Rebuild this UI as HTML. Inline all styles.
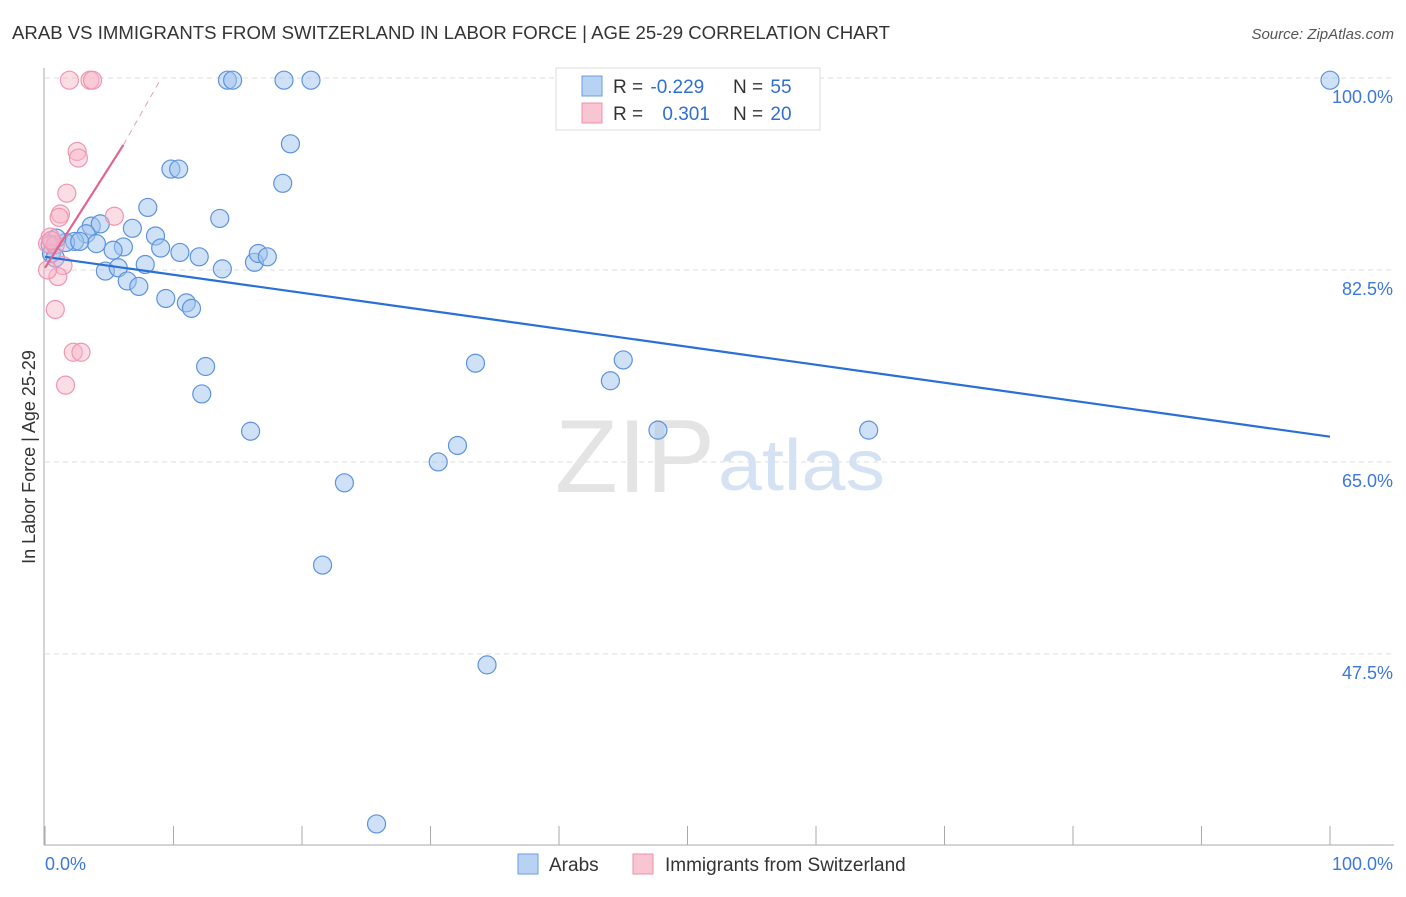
<!DOCTYPE html>
<html><head><meta charset="utf-8"><style>
body{margin:0;background:#fff;font-family:"Liberation Sans",sans-serif;}
svg text{font-family:"Liberation Sans",sans-serif;}
</style></head><body>
<svg id="c" width="1406" height="892">
<text x="12" y="39" font-size="18" fill="#333" textLength="878" lengthAdjust="spacingAndGlyphs">ARAB VS IMMIGRANTS FROM SWITZERLAND IN LABOR FORCE | AGE 25-29 CORRELATION CHART</text>
<text x="1394" y="39" font-size="15" fill="#555" font-style="italic" text-anchor="end">Source: ZipAtlas.com</text>
<text x="35" y="457" font-size="18" fill="#333" text-anchor="middle" transform="rotate(-90 35 457)">In Labor Force | Age 25-29</text>
<g id="grid"></g>
<text x="555" y="492" font-size="104" fill="#e4e4e4" textLength="160" lengthAdjust="spacingAndGlyphs" font-family="Liberation Serif">ZIP</text>
<text x="718" y="490" font-size="72" fill="#d5e2f3" textLength="167" lengthAdjust="spacingAndGlyphs">atlas</text>
<g id="marks"></g>
<g>
<rect x="556" y="68" width="264" height="62" fill="#fff" stroke="#ddd"/>
<rect x="582" y="76" width="20" height="20" fill="#b8d2f4" stroke="#6a9ee0"/>
<rect x="582" y="103" width="20" height="20" fill="#f8c5d3" stroke="#ee8fab"/>
<text x="613" y="93" font-size="19" fill="#333">R = <tspan fill="#2f6fd0" dx="2">-0.229</tspan></text>
<text x="733" y="93" font-size="19" fill="#333">N = <tspan fill="#2f6fd0" dx="2">55</tspan></text>
<text x="613" y="120" font-size="19" fill="#333">R = <tspan fill="#2f6fd0" dx="14">0.301</tspan></text>
<text x="733" y="120" font-size="19" fill="#333">N = <tspan fill="#2f6fd0" dx="2">20</tspan></text>
</g>
<g>
<rect x="518" y="854" width="20" height="20" fill="#b8d2f4" stroke="#6a9ee0"/>
<text x="549" y="871" font-size="19" fill="#333">Arabs</text>
<rect x="633" y="854" width="20" height="20" fill="#f8c5d3" stroke="#ee8fab"/>
<text x="665" y="871" font-size="19" fill="#333">Immigrants from Switzerland</text>
</g>
</svg>
<script>
const yTicks=[100,82.5,65,47.5];
const yTickLabels=["100.0%","82.5%","65.0%","47.5%"];
const xTickLabels=["0.0%","100.0%"];
const arabX=[14.2,14.6,18.6,20.7,100,19.1,9.8,10.4,18.5,8.0,13.6,3.6,4.3,6.8,8.6,9.0,3.2,6.1,5.3,4.0,2.3,1.6,0.9,0.4,0.5,0.8,7.8,10.5,12.0,13.8,16.3,16.6,17.3,4.7,5.7,6.4,7.3,9.4,11.0,11.4,12.5,12.2,16.0,33.5,45.0,44.0,32.1,30.6,23.3,47.7,64.1,21.6,34.4,25.8,2.7];
const arabY=[99.8,99.8,99.8,99.8,99.8,94.0,91.7,91.7,90.4,88.2,87.2,86.5,86.7,86.3,85.6,84.5,85.8,84.6,84.3,84.9,85.1,85.0,85.4,84.8,84.0,83.6,83.0,84.1,83.7,82.6,83.2,84.0,83.7,82.4,82.7,81.5,81.0,79.9,79.5,79.0,73.7,71.2,67.8,74.0,74.3,72.4,66.5,65.0,63.1,67.9,67.9,55.6,46.5,32.0,85.1];
const swissX=[1.9,3.5,3.7,2.5,2.6,1.7,1.2,1.1,5.4,0.4,0.2,0.8,0.5,1.4,1.0,0.8,2.2,2.8,1.6,0.2];
const swissY=[99.8,99.8,99.8,93.3,92.7,89.5,87.6,87.3,87.4,85.5,84.9,84.8,85.2,82.9,81.9,78.9,75.0,75.0,72.0,82.5];
const arabTrend=[83.7,67.3];
const swissTrend=[82.7,93.9,99.9];
const swissTrendX=[0,6.1,9.0];
const X=v=>45+v*12.85, Y=v=>78+(100-v)*10.97;
const NS="http://www.w3.org/2000/svg";
function mk(t,a,p){const e=document.createElementNS(NS,t);for(const k in a)e.setAttribute(k,a[k]);p.appendChild(e);return e;}
const g=document.getElementById('grid'), m=document.getElementById('marks');
yTicks.forEach((v,i)=>{
 const l=mk('line',{x1:45,x2:1394,y1:Y(v),y2:Y(v),stroke:'#ddd','stroke-dasharray':'5,4'},g);
 
 
 const t=mk('text',{x:1393,y:Y(v)+25,'font-size':18,fill:'#3b78d8','text-anchor':'end'},g);
 t.textContent=yTickLabels[i];
 
 
});
const ax=mk('line',{x1:44,x2:44,y1:68,y2:845,stroke:'#aaa'},g);


const bx=mk('line',{x1:44,x2:1394,y1:845,y2:845,stroke:'#aaa'},g);


for(let i=0;i<=10;i++){const t=mk('line',{x1:X(i*10),x2:X(i*10),y1:826,y2:845,stroke:'#aaa'},g);
 
 }
[[0,"start",X(0)],[1,"end",X(100)+63]].forEach(([i,a,x])=>{const t=mk('text',{x:x,y:870,'font-size':18,fill:'#3b78d8','text-anchor':a},g);t.textContent=xTickLabels[i];
 
 });
arabX.forEach((x,i)=>{const c=mk('circle',{cx:X(x),cy:Y(arabY[i]),r:9,fill:'rgba(160,196,240,0.5)',stroke:'#5d93dc','stroke-width':1.2},m);
 
 });
swissX.forEach((x,i)=>{const c=mk('circle',{cx:X(x),cy:Y(swissY[i]),r:9,fill:'rgba(246,180,200,0.45)',stroke:'#f095b0','stroke-width':1.2},m);
 
 });
const bl=mk('line',{x1:X(0),y1:Y(arabTrend[0]),x2:X(100),y2:Y(arabTrend[1]),stroke:'#2a6fd6','stroke-width':2.2},m);


const pl=mk('line',{x1:X(swissTrendX[0]),y1:Y(swissTrend[0]),x2:X(swissTrendX[1]),y2:Y(swissTrend[1]),stroke:'#e0648c','stroke-width':2.2},m);


const pd=mk('line',{x1:X(swissTrendX[1]),y1:Y(swissTrend[1]),x2:X(swissTrendX[2]),y2:Y(swissTrend[2]),stroke:'#e8a0b6','stroke-width':1,'stroke-dasharray':'6,5'},m);


</script>
</body></html>
